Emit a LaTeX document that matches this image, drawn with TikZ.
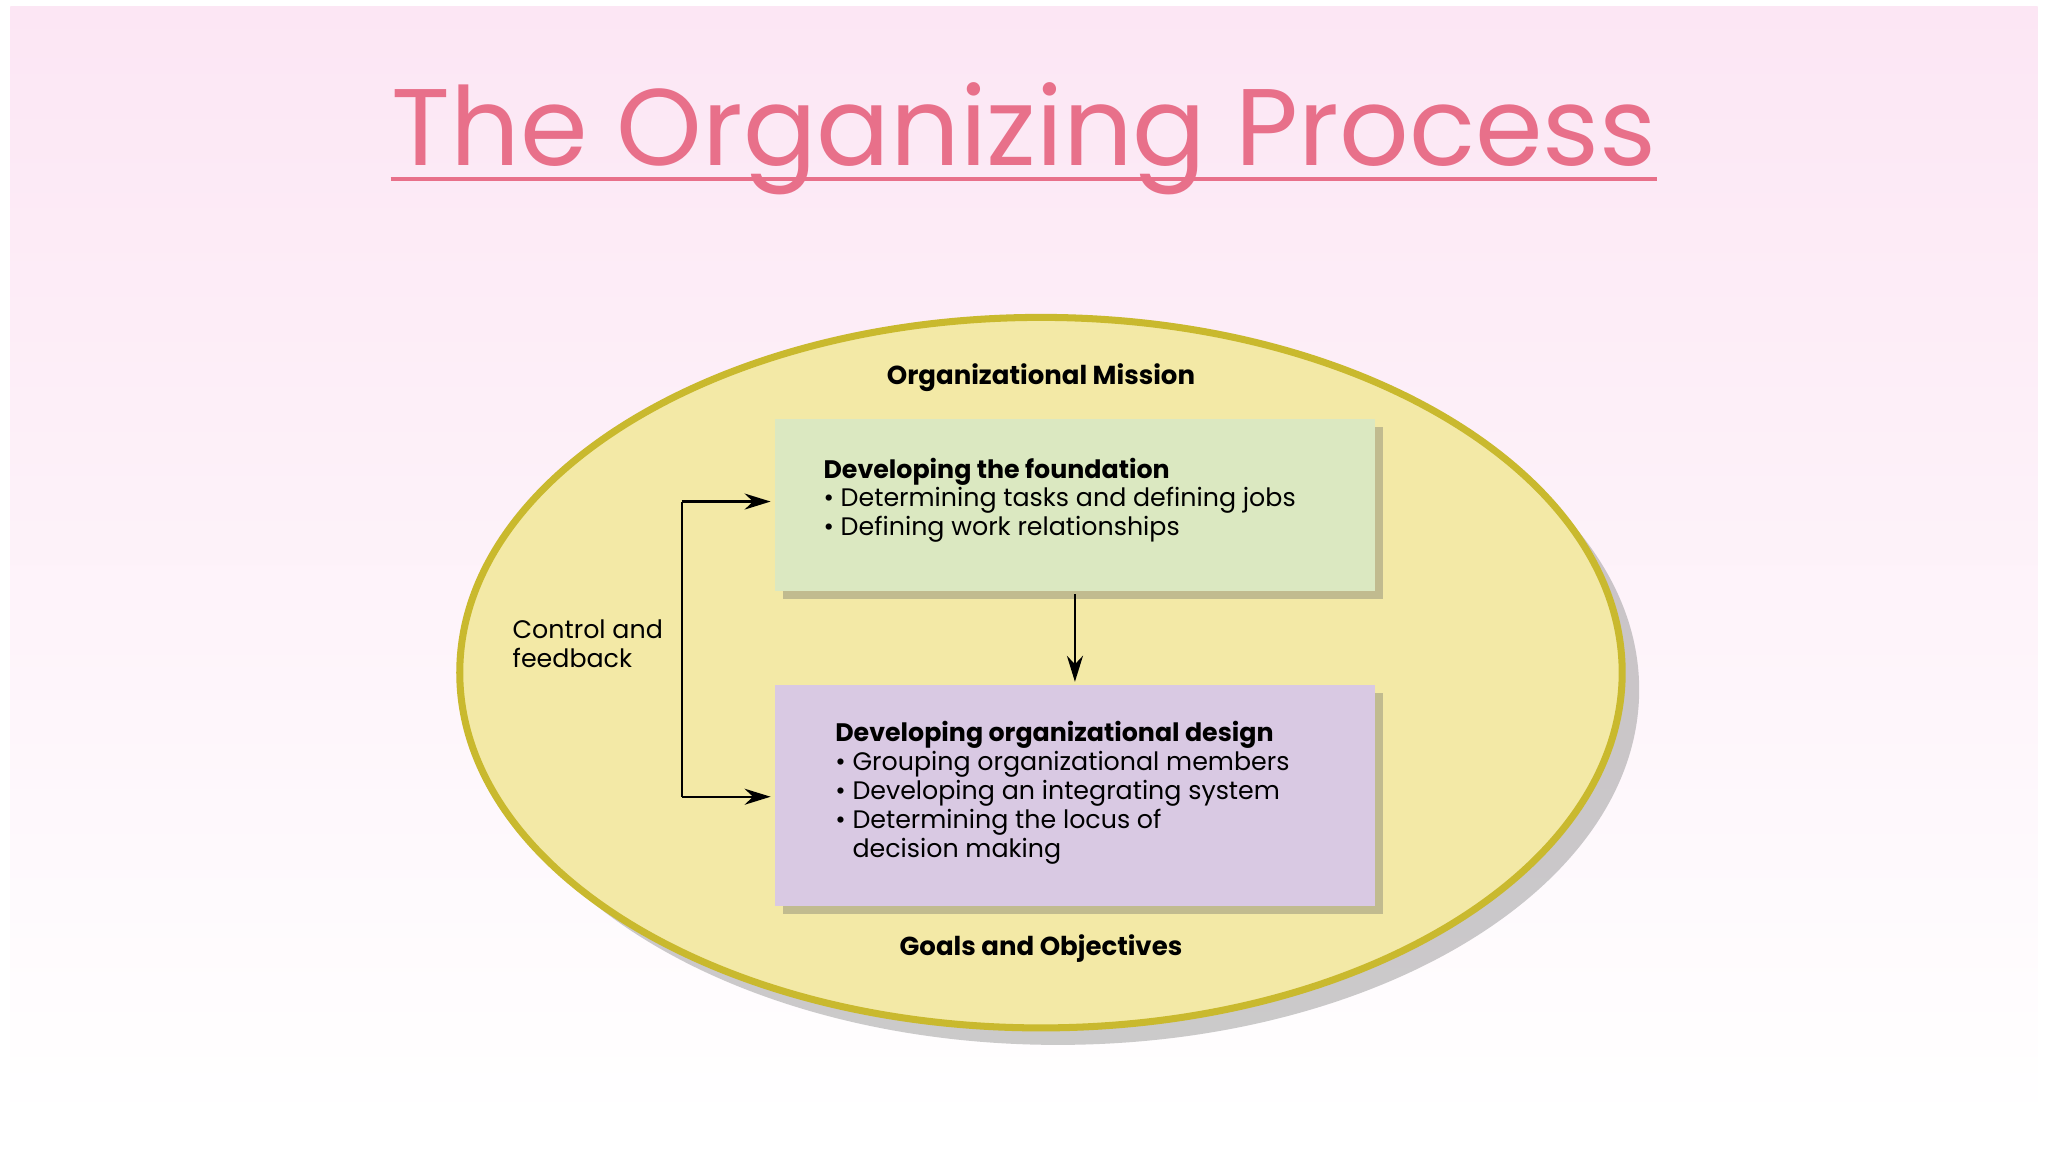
\documentclass[tikz,border=0pt]{standalone}
\usepackage{fontspec}
\setmainfont{Poppins}
\usetikzlibrary{shadows,arrows.meta,shapes.geometric}
\definecolor{titlepink}{HTML}{E8708A}
\definecolor{bgpink}{HTML}{FCE6F4}
\definecolor{ellfill}{HTML}{F3E9A6}
\definecolor{elldraw}{HTML}{C9B92E}
\definecolor{greenbox}{HTML}{DBE8C1}
\definecolor{purplebox}{HTML}{D9C9E3}
\tikzset{
  box/.style={draw=none, drop shadow={shadow xshift=0.8mm, shadow yshift=-0.8mm, opacity=0.35, fill=black!60}},
  lbl/.style={font=\fontsize{7.2}{8.2}\selectfont, align=left, anchor=north west, inner sep=0pt},
  conn/.style={line width=0.7pt, -{Stealth[length=2.6mm,width=1.6mm]}}
}
\begin{document}
\begin{tikzpicture}[x=0.013061cm,y=-0.013061cm]
\useasboundingbox (0,0) rectangle (1568,882);
\fill[white] (0,0) rectangle (1568,882);
\shade[top color=bgpink, bottom color=white] (8,5) rectangle (1560,860);
\node[font=\fontsize{31}{34}\selectfont, text=titlepink, inner sep=0pt, anchor=base] (title) at (784,127) {The Organizing Process};
\draw[titlepink, line width=1.1pt] ([yshift=-1.3mm]title.base west) -- ([yshift=-1.3mm]title.base east);
\fill[black!45, opacity=0.45] (810,528) ellipse [x radius=445, y radius=272];
\node[ellipse, fill=ellfill, draw=elldraw, line width=2pt, minimum width=890*0.013061cm, minimum height=544*0.013061cm, inner sep=0pt] (ell) at (797,515) {};
\node[font=\fontsize{7.4}{8}\selectfont\bfseries] (mission) at (797,289) {Organizational Mission};
\node[font=\fontsize{7.4}{8}\selectfont\bfseries] (goals) at (797,726) {Goals and Objectives};
\node[box, fill=greenbox, minimum width=459*0.013061cm, minimum height=132*0.013061cm, anchor=north west, inner sep=0pt] (found) at (593,320) {};
\node[box, fill=purplebox, minimum width=459*0.013061cm, minimum height=169*0.013061cm, anchor=north west, inner sep=0pt] (design) at (593,524) {};
\node[lbl] (ft) at (630,350) {\textbf{Developing the foundation}\\ \textbullet\ Determining tasks and defining jobs\\ \textbullet\ Defining work relationships};
\node[lbl] (dt) at (639,552) {\textbf{Developing organizational design}\\ \textbullet\ Grouping organizational members\\ \textbullet\ Developing an integrating system\\ \textbullet\ Determining the locus of\\ \phantom{\textbullet\ }decision making};
\node[lbl] (cf) at (392,474) {Control and\\ feedback};
\coordinate (s1) at (823,455); \coordinate (e1) at (823,522);
\draw[conn] (s1) -- (e1);
\coordinate (t) at (522,384); \coordinate (b) at (522,610);
\coordinate (te) at (590,384); \coordinate (be) at (590,610);
\draw[line width=0.7pt] (t) -- (b);
\draw[conn] (t) -- (te);
\draw[conn] (b) -- (be);
\end{tikzpicture}
\end{document}
